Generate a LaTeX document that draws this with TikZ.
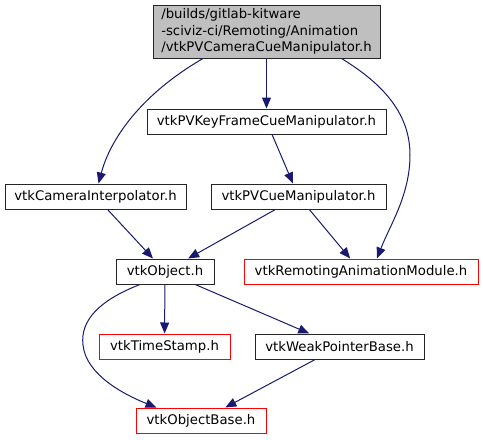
\documentclass[tikz,border=0pt]{standalone}
\usepackage{fontspec}
\setmainfont{DejaVu Sans}
\usetikzlibrary{arrows.meta}
\definecolor{edgeblue}{HTML}{191970}
\definecolor{topgray}{HTML}{BFBFBF}
\tikzset{
  box/.style={draw=black!85, line width=1pt, fill=white, inner sep=0pt, minimum height=25pt, font=\fontsize{13.25}{16.2}\selectfont},
  redbox/.style={box, draw=red},
  dep/.style={draw=edgeblue, line width=1pt, -{Triangle[length=11pt,width=9pt]}}
}
\begin{document}
\begin{tikzpicture}[x=1pt,y=-1pt]
\useasboundingbox (0,0) rectangle (483,440);
\node[box, fill=topgray, minimum width=227pt, minimum height=53pt, align=left] (top) at (266.5,31.5)
  {/builds/gitlab-kitware\\-sciviz-ci/Remoting/Animation\\/vtkPVCameraCueManipulator.h};
\node[box, minimum width=239pt] (kf) at (266.5,121.5) {vtkPVKeyFrameCueManipulator.h};
\node[box, minimum width=181pt] (cam) at (95.5,196.5) {vtkCameraInterpolator.h};
\node[box, minimum width=175pt] (pvc) at (298.5,196.5) {vtkPVCueManipulator.h};
\node[box, minimum width=98pt] (obj) at (165,271.5) {vtkObject.h};
\node[redbox, minimum width=234pt] (ram) at (361,271.5) {vtkRemotingAnimationModule.h};
\node[redbox, minimum width=131pt] (ts) at (164.5,346.5) {vtkTimeStamp.h};
\node[box, minimum width=169pt] (wpb) at (339.5,346.5) {vtkWeakPointerBase.h};
\node[redbox, minimum width=130pt] (ob) at (201,420.5) {vtkObjectBase.h};

\draw[dep] (top) -- (kf);
\draw[dep] ([xshift=-63.5pt]top.south) .. controls (140,95) and (110,140) .. ([xshift=3pt]cam.north);
\draw[dep] ([xshift=75pt]top.south) .. controls (385,85) and (410,115) .. (410,155)
  .. controls (410,195) and (390,225) .. ([xshift=16pt]ram.north);
\draw[dep] (kf) -- (pvc);
\draw[dep] (cam) -- (obj);
\draw[dep] (pvc) -- (obj);
\draw[dep] (pvc) -- (ram);
\draw[dep] (obj) -- (ts);
\draw[dep] (obj) -- (wpb);
\draw[dep] ([xshift=-25pt]obj.south) .. controls (100,300) and (80,320) .. (83,345)
  .. controls (86,375) and (125,395) .. ([xshift=21pt]ob.north west);
\draw[dep] (wpb) -- (ob);
\end{tikzpicture}
\end{document}
